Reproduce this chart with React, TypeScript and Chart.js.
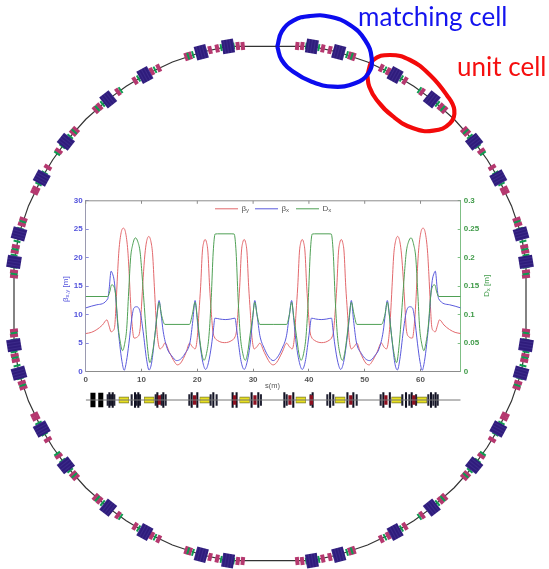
import React, { useEffect, useRef } from "react";
import { Chart, registerables } from "chart.js";

Chart.register(...registerables);

// Optics curves. The lattice is mirror-symmetric about the
// mid-point of the plot, so the left half is listed and reflected at midS.
const midS = 33.6;
const betaYS = [0, 1, 2, 3, 3.8, 4.2, 4.55, 4.9, 5.2, 5.45, 5.7, 5.95, 6.35, 6.75, 7.15, 7.55, 7.8, 8.05, 8.3, 8.66, 9.25, 9.75, 10, 10.3, 10.6, 10.9, 11.3, 11.7, 12, 12.3, 12.6, 12.9, 13.3, 13.8, 14.2, 15, 16, 16.4, 17, 18, 18.6, 19.1, 19.6, 20, 20.3, 20.6, 20.9, 21.15, 21.4, 21.65, 21.9, 22.2, 22.5, 22.8, 23.05, 23.6, 24.9, 26.2, 26.75, 27, 27.3, 27.6, 27.9, 28.15, 28.4, 28.65, 28.9, 29.2, 29.5, 29.8, 30.2, 30.7, 31.2, 32, 33, 33.6];
const betaYV = [6.7, 6.9, 7.4, 8.2, 9.1, 8, 7, 7.2, 8, 12, 17, 21.2, 24.4, 25.2, 24.4, 21.2, 17, 12, 8.4, 5.9, 6.1, 7.5, 11.5, 16.5, 20.5, 22.8, 23.75, 22.8, 20.5, 15, 9.5, 5.8, 4, 4.4, 5.05, 3.4, 1.6, 1.2, 1.5, 3.4, 5, 4.4, 4, 6, 10.5, 15, 21, 22.7, 23.2, 22.7, 21, 15, 10.5, 7, 6.1, 5.5, 5.1, 5.5, 6.1, 7, 10.5, 15, 21, 22.7, 23.2, 22.7, 21, 15, 10.5, 6, 4, 4.4, 5, 3.4, 1.6, 1.2];
const betaXS = [0, 2, 3.95, 4.2, 4.55, 4.8, 5.1, 5.4, 5.65, 6.1, 6.5, 6.9, 7.3, 7.75, 8.25, 8.65, 9.15, 9.75, 10.3, 10.9, 11.35, 11.8, 12.4, 12.8, 13.15, 13.5, 13.9, 14.6, 15.4, 16.3, 17, 17.8, 18.7, 19.2, 19.6, 20, 20.5, 21, 21.5, 22, 22.55, 22.9, 23.15, 24, 25, 26, 26.75, 27.05, 27.35, 27.85, 28.4, 28.9, 29.45, 29.9, 30.3, 30.7, 31.2, 32, 32.8, 33.6];
const betaXV = [11.2, 11.75, 12.8, 14.5, 17.65, 17.2, 16, 13, 9.3, 4.8, 1.8, 0.25, 1.8, 5, 9.3, 11.2, 11.4, 10.5, 7, 2.2, 0.3, 1.5, 6.4, 10.2, 12.5, 10.2, 7, 4.1, 2.8, 1.95, 2.2, 3.2, 5.2, 9, 12.5, 9, 4.7, 1.6, 0.4, 1.6, 4.7, 7.5, 9.4, 9.25, 9.15, 9.25, 9.4, 7.5, 5.2, 1.8, 0.4, 1.6, 4.7, 9, 12.5, 10, 6.4, 4.1, 2.6, 1.95];
const dispS = [0, 3.95, 4.3, 4.65, 5.25, 5.85, 6.2, 6.6, 7, 7.35, 7.7, 8.05, 8.4, 8.9, 9.35, 9.75, 10.1, 10.45, 11, 11.5, 12, 12.4, 12.8, 13.15, 13.6, 14.2, 18.6, 19.1, 19.6, 20, 20.35, 20.8, 21.2, 21.65, 22.1, 22.5, 22.85, 23.2, 23.6, 26.2, 26.6, 26.95, 27.3, 27.7, 28.15, 28.6, 29, 29.45, 29.9, 30.3, 30.7, 31.2, 33.6];
const dispV = [0.132, 0.132, 0.14, 0.1525, 0.143, 0.076, 0.052, 0.037, 0.05, 0.076, 0.14, 0.2, 0.222, 0.235, 0.228, 0.21, 0.17, 0.122, 0.05, 0.016, 0.035, 0.064, 0.1, 0.122, 0.099, 0.083, 0.083, 0.1, 0.122, 0.095, 0.064, 0.032, 0.02, 0.032, 0.064, 0.13, 0.21, 0.2417, 0.242, 0.242, 0.2417, 0.21, 0.13, 0.064, 0.032, 0.02, 0.032, 0.064, 0.095, 0.122, 0.1, 0.083, 0.083];

const sTicks = [0, 10, 20, 30, 40, 50, 60];
const betaTicks = [0, 5, 10, 15, 20, 25, 30];
const dispTicks = [0, 0.05, 0.1, 0.15, 0.2, 0.25, 0.3];
const sMax = 67.2;

// Lattice strip: element positions along s
const thickMagnets = [1.3, 2.7];
const tallLines = [4.24, 4.84, 8.84, 9.43, 12.84, 13.91, 18.99, 20, 22.87, 26.33, 27.04, 29.73, 30.93, 35.6, 37.2, 40.67, 43.8, 46.9, 47.96, 53.34, 54.5, 57.4, 58.42, 61.88, 62.7];
const shortLines = [3.94, 4.54, 5.13, 8.24, 9.13, 9.73, 12.54, 13.61, 14.33, 18.57, 22.39, 23.46, 31.4, 36.02, 40.3, 43.3, 44.37, 48.56, 52.86, 56.74, 58, 59.2, 61.4, 62.3, 63.08];
const redElements = [13.2, 19.52, 26.69, 30.33, 36.6, 40.44, 47.5, 53.8, 58.8];
const yellowElements = [6.84, 11.37, 21.34, 28.48, 38.55, 45.6, 55.7, 60.24];

// Ring: angles clockwise from the top of the ring for one quadrant; the drawing is
// mirror-symmetric across both axes.
const dipoleAngles = [9.26, 15.3, 28.7, 38.4, 51.6, 61.2, 74.5, 80.8];
const ringGapAngles = [22, 33.5, 45, 56.5, 68];
const pinkAngles = [6, 7.1, 11.7, 13.3, 17.9, 18.7, 25.3, 27, 31.2, 35.7, 40.9, 42, 48.2, 49.1, 54.2, 58.5, 63.9, 64.7, 71.2, 72.3, 77.4, 78.5, 83, 84];
const greenAngles = [8, 10.8, 14.3, 17.2, 18.3, 26.2, 30.3, 35, 40, 41.5, 48.7, 50.1, 52.9, 54.8, 59.9, 62.7, 71.7, 73.3, 76.2, 78, 79.3, 82, 83.5];

// Callouts, outlined point by point
const blueLoopX = [277.3, 281.7, 293.3, 310, 330, 350, 365, 371.7, 368.3, 355, 333.3, 311.7, 293.3, 281.7, 277.3];
const blueLoopY = [46.7, 31.7, 20.7, 16, 16.7, 25, 40, 58.3, 73.3, 83.3, 86.7, 81.7, 71.7, 60, 46.7];
const redLoopX = [367.3, 373.3, 390, 410, 430, 446.7, 454.3, 450, 433.3, 413.3, 393.3, 376.7, 369.3, 367.3];
const redLoopY = [75, 60, 55, 60, 75, 95, 110, 123.3, 130.7, 128.3, 116.7, 100, 86.7, 75];
const calloutTexts = ["matching cell", "unit cell"];
const calloutColors = ["#1414EE", "#F50F0F"];

const RED = "#E2686C";
const BLUE = "#5A5ADC";
const GREEN = "#4FA055";
const BLUE_TEXT = "#5252DC";
const GREEN_TEXT = "#3F9A48";
const AXIS_GREY = "#8C8C8C";
const TICK_FONT = { family: "'Liberation Sans'", size: 8, weight: "bold" as const };

const mirrored = (s: number[], v: number[]) => {
  const pts = s.map((x, i) => ({ x, y: v[i] }));
  for (let i = s.length - 2; i >= 0; i--) pts.push({ x: 2 * midS - s[i], y: v[i] });
  return pts;
};
const fold = (q: number[]) =>
  [...q, ...q.map((a) => 180 - a), ...q.map((a) => 180 + a), ...q.map((a) => 360 - a)].sort((a, b) => a - b);
const ringPoint = (deg: number) => {
  const r = (deg * Math.PI) / 180;
  const dx = Math.max(-256, Math.min(256, 260.5 * Math.sin(r)));
  const dy = Math.max(-257.5, Math.min(257.5, 260.5 * Math.cos(r)));
  return { x: 270 + dx, y: 303.5 - dy };
};
const block = (w: number, h: number, fill: string, stripe?: string) => {
  const c = document.createElement("canvas");
  c.width = w;
  c.height = h;
  const g = c.getContext("2d")!;
  g.fillStyle = fill;
  g.fillRect(0, 0, w, h);
  if (stripe) {
    g.fillStyle = stripe;
    for (let x = 2; x < w; x += 3) g.fillRect(x, 0, 1, h);
  }
  return c;
};

const subText = (ctx: CanvasRenderingContext2D, x: number, y: number, parts: [string, boolean][], size: number) => {
  let cx = x;
  for (const [t, sub] of parts) {
    ctx.font = `${sub ? size - 2 : size}px 'Liberation Sans'`;
    ctx.fillText(t, cx, sub ? y + 2 : y);
    cx += ctx.measureText(t).width;
  }
};

const ringLabels = {
  id: "ringLabels",
  afterDraw(chart: any) {
    const { ctx, scales } = chart;
    ctx.save();
    ctx.font = "26px Lato";
    ctx.textBaseline = "alphabetic";
    ctx.fillStyle = calloutColors[0];
    ctx.fillText(calloutTexts[0], scales.x.getPixelForValue(358), scales.y.getPixelForValue(26));
    ctx.fillStyle = calloutColors[1];
    ctx.fillText(calloutTexts[1], scales.x.getPixelForValue(457), scales.y.getPixelForValue(76));
    ctx.restore();
  },
};

const plotFrame = {
  id: "plotFrame",
  afterDraw(chart: any) {
    const { ctx, chartArea: a, scales } = chart;
    ctx.save();
    ctx.lineWidth = 1;
    ctx.strokeStyle = AXIS_GREY;
    ctx.beginPath();
    ctx.moveTo(a.left, a.top);
    ctx.lineTo(a.right, a.top);
    for (const v of sTicks) {
      const px = scales.x.getPixelForValue(v);
      ctx.moveTo(px, a.top);
      ctx.lineTo(px, a.top + 3);
    }
    ctx.stroke();

    // legend
    const y = a.top + 8;
    const L: [number, string, [string, boolean][]][] = [
      [165, RED, [["β", false], ["y", true]]],
      [205, BLUE, [["β", false], ["x", true]]],
      [246, GREEN, [["D", false], ["x", true]]],
    ];
    ctx.textBaseline = "middle";
    for (const [x, col, parts] of L) {
      ctx.strokeStyle = col;
      ctx.beginPath();
      ctx.moveTo(x, y);
      ctx.lineTo(x + 23, y);
      ctx.stroke();
      ctx.fillStyle = "#555";
      subText(ctx, x + 26.5, y, parts, 8);
    }

    // s axis title
    ctx.fillStyle = "#555";
    ctx.font = "7.5px 'Liberation Sans'";
    ctx.fillText("s(m)", 215, 196);

    // rotated axis titles
    ctx.save();
    ctx.translate(15.5, 112);
    ctx.rotate(-Math.PI / 2);
    ctx.fillStyle = BLUE_TEXT;
    subText(ctx, 0, 0, [["β", false], ["x,y", true], [" [m]", false]], 8);
    ctx.restore();
    ctx.save();
    ctx.translate(436.5, 107);
    ctx.rotate(-Math.PI / 2);
    ctx.fillStyle = GREEN_TEXT;
    subText(ctx, 0, 0, [["D", false], ["x", true], [" [m]", false]], 8);
    ctx.restore();
    ctx.restore();
  },
};

export default function App() {
  const ringRef = useRef<HTMLCanvasElement>(null);
  const plotRef = useRef<HTMLCanvasElement>(null);
  const stripRef = useRef<HTMLCanvasElement>(null);

  useEffect(() => {
    const dipoles = fold(dipoleAngles);
    const pinks = fold(pinkAngles);
    const greens = fold(greenAngles);
    const ringAngles = fold([...dipoleAngles, ...ringGapAngles]);
    const points = (angles: number[]) => angles.map(ringPoint);
    const markerSet = (angles: number[], style: HTMLCanvasElement) => ({
      data: points(angles),
      showLine: false,
      pointStyle: style,
      pointRadius: 5,
      pointRotation: angles,
    });

    const ring = new Chart(ringRef.current!, {
      type: "scatter",
      data: {
        datasets: [
          {
            data: blueLoopX.map((x, i) => ({ x, y: blueLoopY[i] })),
            showLine: true, borderColor: "#0C0CEE", borderWidth: 4.2, tension: 0.45, pointRadius: 0,
          },
          {
            data: redLoopX.map((x, i) => ({ x, y: redLoopY[i] })),
            showLine: true, borderColor: "#F30A0A", borderWidth: 4.2, tension: 0.45, pointRadius: 0,
          },
          markerSet(dipoles, block(12, 14, "#2F1C7C", "#3C2A8A")),
          markerSet(greens, block(2, 7, "#0E9A50")),
          markerSet(pinks, block(4, 8, "#B5386F")),
          {
            data: [...points(ringAngles), ringPoint(ringAngles[0] + 360)],
            showLine: true, borderColor: "#333333", borderWidth: 1.2, tension: 0, pointRadius: 0,
          },
        ] as any,
      },
      options: {
        animation: false,
        responsive: false,
        events: [],
        layout: { padding: 0, autoPadding: false },
        plugins: { legend: { display: false }, tooltip: { enabled: false } },
        scales: {
          x: { type: "linear", min: 0, max: 549, display: false },
          y: { type: "linear", min: 0, max: 569, reverse: true, display: false },
        },
      },
      plugins: [ringLabels],
    });

    const fixTicks = (vals: number[]) => (s: any) => {
      s.ticks = vals.map((value) => ({ value }));
    };
    const plot = new Chart(plotRef.current!, {
      type: "line",
      data: {
        datasets: [
          { data: mirrored(dispS, dispV), yAxisID: "yD", borderColor: GREEN },
          { data: mirrored(betaXS, betaXV), yAxisID: "y", borderColor: BLUE },
          { data: mirrored(betaYS, betaYV), yAxisID: "y", borderColor: RED },
        ].map((d) => ({ ...d, borderWidth: 1, pointRadius: 0, cubicInterpolationMode: "monotone" as const })),
      },
      options: {
        animation: false,
        responsive: false,
        events: [],
        layout: { padding: { top: 10 }, autoPadding: false },
        plugins: { legend: { display: false }, tooltip: { enabled: false } },
        scales: {
          x: {
            type: "linear", min: 0, max: sMax,
            afterBuildTicks: fixTicks(sTicks),
            afterFit: (s: any) => { s.height = 23.3; },
            grid: { drawOnChartArea: false, tickLength: -3, tickColor: AXIS_GREY },
            border: { color: AXIS_GREY },
            ticks: { color: "#555", font: TICK_FONT, padding: 6, maxRotation: 0, autoSkip: false },
          },
          y: {
            type: "linear", position: "left", min: 0, max: 30,
            afterBuildTicks: fixTicks(betaTicks),
            afterFit: (s: any) => { s.width = 35.7; },
            grid: { drawOnChartArea: false, tickLength: -3, tickColor: "#8A8ADF" },
            border: { color: "#9A9AB0" },
            ticks: { color: BLUE_TEXT, font: TICK_FONT, padding: 6, autoSkip: false },
          },
          yD: {
            type: "linear", position: "right", min: 0, max: 0.3,
            afterBuildTicks: fixTicks(dispTicks),
            afterFit: (s: any) => { s.width = 39.3; },
            grid: { drawOnChartArea: false, tickLength: -3, tickColor: "#7FBF85" },
            border: { color: "#7FBF85" },
            ticks: { color: GREEN_TEXT, font: TICK_FONT, padding: 6, autoSkip: false, callback: (v: any) => String(v) },
          },
        },
      },
      plugins: [plotFrame],
    });

    const bars = (xs: number[], half: number, color: string, thickness: number) => ({
      type: "bar" as const,
      data: xs.map((x) => ({ x, y: [-half, half] })),
      backgroundColor: color,
      barThickness: thickness,
      grouped: false,
    });
    const strip = new Chart(stripRef.current!, {
      type: "bar",
      data: {
        datasets: [
          {
            type: "line" as const,
            data: [{ x: 0, y: 0 }, { x: sMax, y: 0 }],
            borderColor: "#777777", borderWidth: 1, pointRadius: 0,
          },
          bars(redElements, 4.5, "#8E1020", 2.6),
          bars(tallLines, 7.5, "#111122", 1.4),
          bars(shortLines, 5.5, "#222233", 1.4),
          bars(thickMagnets, 7, "#000000", 4.4),
          bars(yellowElements, 2.2, "#E8E020", 8.5),
          bars(yellowElements, 3, "#77772A", 9.5),
        ] as any,
      },
      options: {
        animation: false,
        responsive: false,
        events: [],
        layout: { padding: { left: 35.7, right: 39.3 }, autoPadding: false },
        plugins: { legend: { display: false }, tooltip: { enabled: false } },
        scales: {
          x: { type: "linear", min: 0, max: sMax, display: false, offset: false },
          y: { type: "linear", min: -15, max: 15, display: false },
        },
      },
    });

    return () => {
      ring.destroy();
      plot.destroy();
      strip.destroy();
    };
  }, []);

  const abs = (left: number, top: number, blur: number): React.CSSProperties => ({
    position: "absolute", left, top, display: "block", filter: blur ? `blur(${blur}px)` : undefined,
  });

  return (
    <div style={{ position: "fixed", left: 0, top: 0, width: 549, height: 569, background: "#fff", overflow: "hidden" }}>
      <canvas ref={ringRef} width={549} height={569} style={abs(0, 0, 0)} />
      <canvas ref={plotRef} width={450} height={205} style={abs(50, 190, 0.45)} />
      <canvas ref={stripRef} width={450} height={30} style={abs(50, 385, 0.45)} />
    </div>
  );
}
